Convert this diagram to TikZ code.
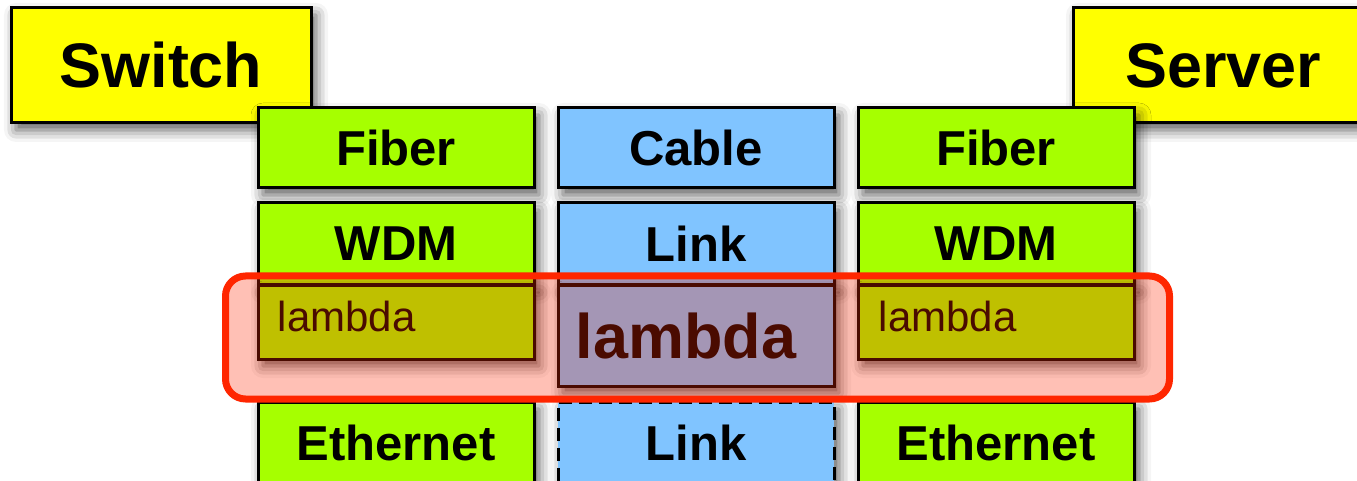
\documentclass[tikz,border=0pt]{standalone}
\usepackage{fontspec}
\setmainfont{Liberation Sans}
\usetikzlibrary{shadows.blur}

\definecolor{deviceyellow}{HTML}{FFFF00}
\definecolor{fibergreen}{HTML}{A6FF00}
\definecolor{cableblue}{HTML}{80C4FF}
\definecolor{bandred}{HTML}{FF2600}

\begin{document}
\begin{tikzpicture}
    [
        layer/.style      = {draw, line width=0.06cm, inner sep=0pt, minimum width=5.52cm, minimum height=1.64cm,
                             font=\fontsize{27.9}{30}\selectfont\bfseries,
                             blur shadow={shadow xshift=0.1cm, shadow yshift=-0.14cm, shadow blur radius=0.24cm, shadow opacity=65}},
        greenlayer/.style = {layer, fill=fibergreen},
        bluelayer/.style  = {layer, fill=cableblue},
        device/.style     = {layer, fill=deviceyellow, minimum width=6cm, minimum height=2.3cm, font=\fontsize{35.8}{40}\selectfont\bfseries},
        band/.style       = {draw=bandred, line width=0.14cm, rounded corners=0.4cm, fill=bandred, fill opacity=0.29, draw opacity=1,
                             minimum width=18.88cm, minimum height=2.46cm}
    ]
    \useasboundingbox (0,0) rectangle (27.14,-9.62);
    \node [device] at (3.22,-1.31) (switch) {Switch};
    \node [device] at (24.46,-1.31) (server) {Server};

    \node [greenlayer, minimum height=1.6cm] at (7.92,-2.96) (fiberLeft) {Fiber};
    \node [bluelayer, minimum height=1.6cm] at (13.92,-2.96) (cable) {Cable};
    \node [greenlayer, minimum height=1.6cm] at (19.92,-2.96) (fiberRight) {Fiber};

    \node [greenlayer] at (7.92,-4.88) (wdmLeft) {WDM};
    \node [bluelayer] at (13.92,-4.88) (linkTop) {Link};
    \node [greenlayer] at (19.92,-4.88) (wdmRight) {WDM};

    \node [greenlayer, minimum height=1.46cm] at (7.92,-6.45) (lambdaLeft) {};
    \node [bluelayer, minimum height=2cm] at (13.92,-6.72) (lambdaMid) {};
    \node [greenlayer, minimum height=1.46cm] at (19.92,-6.45) (lambdaRight) {};
    \node [anchor=base west, font=\fontsize{23.9}{26}\selectfont] at ([xshift=0.3cm, yshift=-0.94cm] lambdaLeft.north west) (lambdaLeftText) {lambda};
    \node [font=\fontsize{35.8}{40}\selectfont\bfseries] at ([xshift=-0.2cm] lambdaMid.center) (lambdaMidText) {lambda};
    \node [anchor=base west, font=\fontsize{23.9}{26}\selectfont] at ([xshift=0.32cm, yshift=-0.94cm] lambdaRight.north west) (lambdaRightText) {lambda};

    \node [greenlayer] at (7.92,-8.86) (ethernetLeft) {Ethernet};
    \node [bluelayer, dash pattern=on 0.26cm off 0.14cm] at (13.92,-8.86) (linkBottom) {Link};
    \node [greenlayer] at (19.92,-8.86) (ethernetRight) {Ethernet};

    % highlight over the lambda row
    \node [band] at (13.95,-6.75) (lambdaBand) {};
\end{tikzpicture}
\end{document}
